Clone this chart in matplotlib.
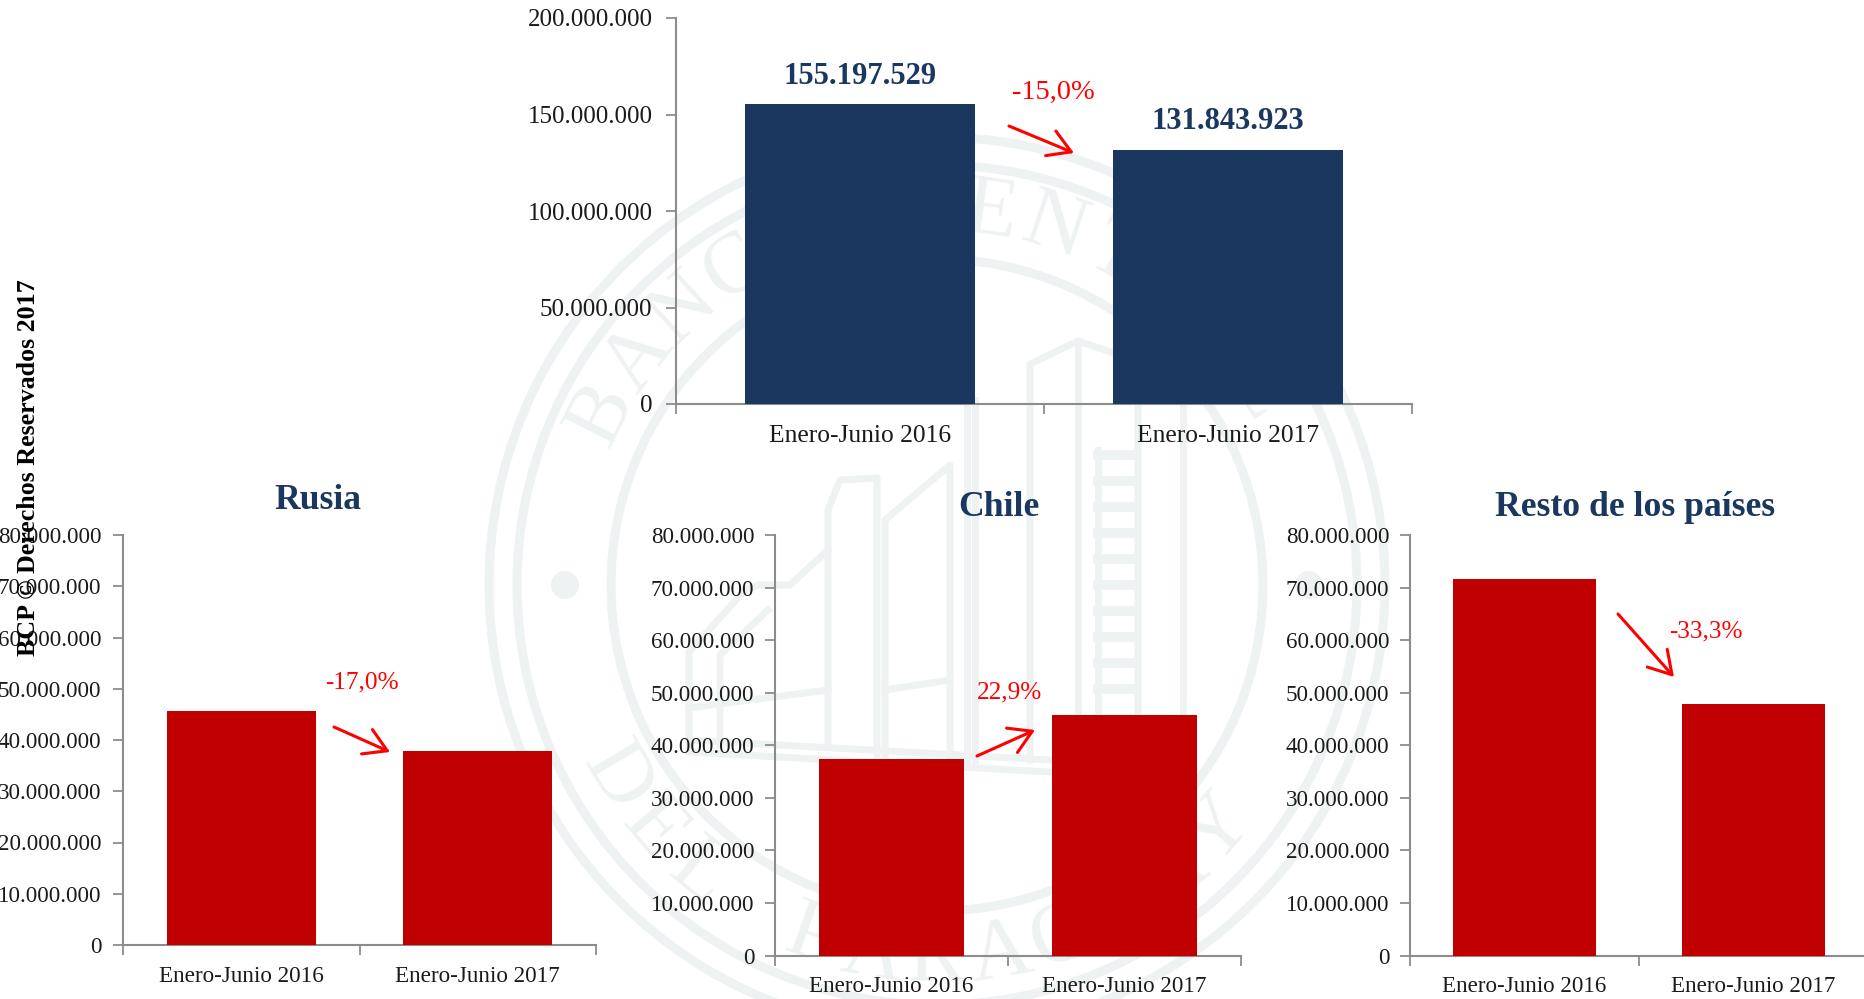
import numpy as np
import matplotlib
matplotlib.use("Agg")
import matplotlib.pyplot as plt
from matplotlib.patches import Circle, FancyArrowPatch

# === DATA ===
categories = ['Enero-Junio 2016', 'Enero-Junio 2017']
total_values = [155197529, 131843923]
total_labels = ['155.197.529', '131.843.923']
rusia_values = [45700000, 37930000]
chile_values = [37300000, 45840000]
resto_values = [71700000, 47830000]
total_ticks = [0, 50000000, 100000000, 150000000, 200000000]
small_ticks = [0, 10000000, 20000000, 30000000, 40000000, 50000000, 60000000, 70000000, 80000000]

W, H = 1864, 999
NAVY = '#19375F'
RED = '#C00000'
AXIS = '#8C8C8C'
SEAL = '#EEF2F2'

plt.rcParams.update({
    "font.family": ["Liberation Serif", "DejaVu Serif"],
    "font.size": 17,
})


def fmt(v):
    return f"{v:,.0f}".replace(',', '.')


def px_axes(fig, left, right, top, bottom):
    return fig.add_axes([left / W, 1 - bottom / H, (right - left) / W, (bottom - top) / H])


def bar_panel(fig, box, values, color, ticks, width, fs, xfs, pad):
    ax = px_axes(fig, *box)
    ax.patch.set_alpha(0)
    ax.bar([0, 1], values, width=width, color=color, zorder=3)
    ax.set_xlim(-0.5, 1.5)
    ax.set_ylim(0, ticks[-1])
    ax.set_yticks(ticks)
    ax.set_yticklabels([fmt(t) for t in ticks], fontsize=fs, color='#1A1A1A')
    ax.set_xticks([-0.5, 0.5, 1.5])
    ax.set_xticklabels([])
    ax.set_xticks([0, 1], minor=True)
    ax.set_xticklabels(categories, minor=True, fontsize=xfs, color='#1A1A1A')
    ax.tick_params(axis='x', which='minor', length=0, pad=15)
    ax.tick_params(axis='x', which='major', length=7, width=1.3, color=AXIS)
    ax.tick_params(axis='y', length=7, width=1.3, color=AXIS, pad=pad)
    for s in ['top', 'right']:
        ax.spines[s].set_visible(False)
    for s in ['left', 'bottom']:
        ax.spines[s].set_color(AXIS)
        ax.spines[s].set_linewidth(1.5)
    return ax


def arrow(fig, start, end):
    fig.add_artist(FancyArrowPatch(
        (start[0] / W, 1 - start[1] / H), (end[0] / W, 1 - end[1] / H),
        transform=fig.transFigure, arrowstyle='->,head_length=10,head_width=6',
        color='red', lw=2.2, shrinkA=0, shrinkB=0, mutation_scale=1.6, zorder=5))


def ftext(fig, x, y, s, **kw):
    kw.setdefault('ha', 'center')
    kw.setdefault('va', 'center')
    return fig.text(x / W, 1 - y / H, s, **kw)


def draw_seal(fig):
    bg = fig.add_axes([0, 0, 1, 1], zorder=-5)
    bg.set_xlim(0, W)
    bg.set_ylim(H, 0)
    bg.axis('off')
    cx, cy = 937, 585
    for r, lw in [(448, 6.5), (420, 6.5), (326, 6.5)]:
        bg.add_patch(Circle((cx, cy), r, fill=False, ec=SEAL, lw=lw))
    for x in (565, 1309):
        bg.add_patch(Circle((x, cy), 14, fc=SEAL, ec='none'))

    # letters around the ring
    top_word = 'BANCO CENTRAL'
    for ch, a in zip(top_word, np.linspace(153, 31, len(top_word))):
        t = np.radians(a)
        bg.text(cx + 375 * np.cos(t), cy - 375 * np.sin(t), ch, color=SEAL, fontsize=62,
                rotation=a - 90, ha='center', va='center')
    low_word = 'DEL PARAGUAY'
    for ch, a in zip(low_word, np.linspace(211, 319, len(low_word))):
        t = np.radians(a)
        bg.text(cx + 375 * np.cos(t), cy - 375 * np.sin(t), ch, color=SEAL, fontsize=62,
                rotation=a + 90, ha='center', va='center')

    # building in the centre
    lines = [
        [(689, 745), (689, 652), (745, 590), (758, 585), (790, 585), (828, 550)],
        [(720, 745), (720, 655), (768, 610)],
        [(689, 708), (828, 690)],
        [(828, 745), (828, 510), (840, 480), (877, 478), (877, 760)],
        [(885, 760), (885, 520), (950, 465), (950, 760)],
        [(885, 690), (950, 680)],
        [(967, 760), (967, 400)],
        [(975, 760), (975, 400)],
        [(1030, 760), (1030, 364), (1078, 341), (1138, 361), (1138, 720)],
        [(1078, 341), (1078, 760)],
        [(1098, 450), (1098, 720)],
        [(1183, 400), (1183, 720)],
        [(689, 740), (1050, 760)],
        [(689, 752), (1050, 772)],
    ]
    for ln in lines:
        xs, ys = zip(*ln)
        bg.plot(xs, ys, color=SEAL, lw=5, solid_joinstyle='round')
    for y in np.arange(455, 715, 26):
        bg.plot([1098, 1136], [y, y], color=SEAL, lw=7)


# === FIGURE ===
fig = plt.figure(figsize=(W / 100, H / 100), dpi=100, facecolor='white')
draw_seal(fig)

ax_total = bar_panel(fig, (676, 1412, 18, 404), total_values, NAVY, total_ticks, 0.625, 18, 18.4, 10)
bar_panel(fig, (123, 596, 535, 945), rusia_values, RED, small_ticks, 0.63, 16.6, 16.7, 8.5)
bar_panel(fig, (775, 1241, 535, 955.5), chile_values, RED, small_ticks, 0.625, 16.6, 16.6, 8)
bar_panel(fig, (1410, 1868, 535, 955.5), resto_values, RED, small_ticks, 0.625, 16.6, 16.6, 8)

for i, lab in enumerate(total_labels):
    ax_total.annotate(lab, (i, total_values[i]), xytext=(0, 10), textcoords='offset points',
                      ha='center', va='bottom', fontsize=22, color=NAVY, fontweight='bold')

# titles
ftext(fig, 318, 500, 'Rusia', fontsize=25.7, color=NAVY, fontweight='bold')
ftext(fig, 999, 507, 'Chile', fontsize=25.7, color=NAVY, fontweight='bold')
ftext(fig, 1635, 507, 'Resto de los países', fontsize=25.7, color=NAVY, fontweight='bold')

# change labels and arrows
ftext(fig, 1053, 92, '-15,0%', fontsize=20.5, color='red')
ftext(fig, 362, 682, '-17,0%', fontsize=18.2, color='red')
ftext(fig, 1010, 692, '22,9%', fontsize=18.2, color='red')
ftext(fig, 1706, 631, '-33,3%', fontsize=18.2, color='red')
arrow(fig, (1009, 126), (1074, 153))
arrow(fig, (334, 727), (390, 752))
arrow(fig, (977, 756), (1035, 730))
arrow(fig, (1618, 614), (1674, 677))

ftext(fig, 28, 468, 'BCP © Derechos Reservados 2017', fontsize=18.7, fontweight='bold',
      rotation=90, color='black', zorder=10)

fig.savefig('out.png', dpi=100)
